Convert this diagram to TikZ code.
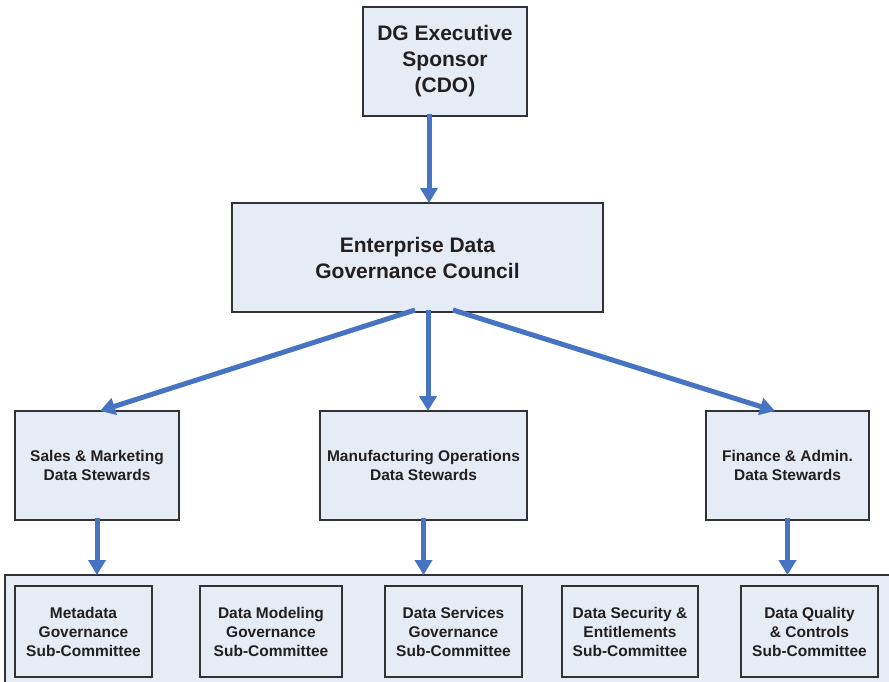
\documentclass[tikz,border=0pt]{standalone}
\usepackage{fontspec}
\setmainfont{Liberation Sans}
\usetikzlibrary{arrows.meta}
\definecolor{boxfill}{RGB}{230,236,246}
\definecolor{arrowblue}{RGB}{70,116,194}
\definecolor{edge}{RGB}{50,50,50}
\definecolor{txt}{RGB}{35,31,32}
\tikzset{
  box/.style={draw=edge, line width=1.3pt, fill=boxfill, align=center, text=txt,
    inner sep=0pt, outer sep=0pt, font=\bfseries},
  bigtext/.style={font=\bfseries\fontsize{21}{26}\selectfont},
  smalltext/.style={font=\bfseries\fontsize{15.5}{19}\selectfont},
  link/.style={draw=arrowblue, line width=5pt, -{Triangle[width=17pt,length=15pt]}},
}
\begin{document}
\begin{tikzpicture}[x=1pt,y=-1pt]
\useasboundingbox (0,0) rectangle (889,681);
\clip (0,0) rectangle (889,681);
\fill[white] (0,0) rectangle (889,681);
% top
\node[box,bigtext,minimum width=164pt,minimum height=109pt] (cdo) at (445,61.5) {DG Executive\\Sponsor\\(CDO)};
\node[box,bigtext,minimum width=371pt,minimum height=109pt] (council) at (417.5,257.5) {Enterprise Data\\Governance Council};
% stewards
\node[box,smalltext,minimum width=164pt,minimum height=109pt] (sales) at (97,465.5) {Sales \& Marketing\\Data Stewards};
\node[box,smalltext,minimum width=207pt,minimum height=109pt] (manu) at (423.5,465.5) {Manufacturing Operations\\Data Stewards};
\node[box,smalltext,minimum width=163pt,minimum height=109pt] (fin) at (787.5,465.5) {Finance \& Admin.\\Data Stewards};
% panel
\node[box,minimum width=890pt,minimum height=120pt] (panel) at (450,635) {};
\node[box,smalltext,minimum width=137pt,minimum height=91pt] (meta) at (83.5,631.5) {Metadata\\Governance\\Sub-Committee};
\node[box,smalltext,minimum width=142pt,minimum height=91pt] (model) at (271,631.5) {Data Modeling\\Governance\\Sub-Committee};
\node[box,smalltext,minimum width=137pt,minimum height=91pt] (serv) at (453.5,631.5) {Data Services\\Governance\\Sub-Committee};
\node[box,smalltext,minimum width=136pt,minimum height=91pt] (sec) at (630,631.5) {Data Security \&\\Entitlements\\Sub-Committee};
\node[box,smalltext,minimum width=137pt,minimum height=91pt] (qual) at (809.5,631.5) {Data Quality\\\& Controls\\Sub-Committee};
% connectors
\draw[link] ([xshift=-16pt,yshift=2pt]cdo.south) -- ([xshift=-16pt]cdo.south |- council.north);
\draw[link] ([xshift=-2.5pt,yshift=2pt]council.south) -- ([xshift=3pt]sales.north);
\draw[link] ([xshift=10.5pt,yshift=2pt]council.south) -- ([xshift=10.5pt]council.south |- manu.north);
\draw[link] ([xshift=35.5pt,yshift=2pt]council.south) -- ([xshift=-12.5pt]fin.north);
\draw[link] ([yshift=2pt]sales.south) -- (sales.south |- panel.north);
\draw[link] ([yshift=2pt]manu.south) -- (manu.south |- panel.north);
\draw[link] ([yshift=2pt]fin.south) -- (fin.south |- panel.north);
\end{tikzpicture}
\end{document}
